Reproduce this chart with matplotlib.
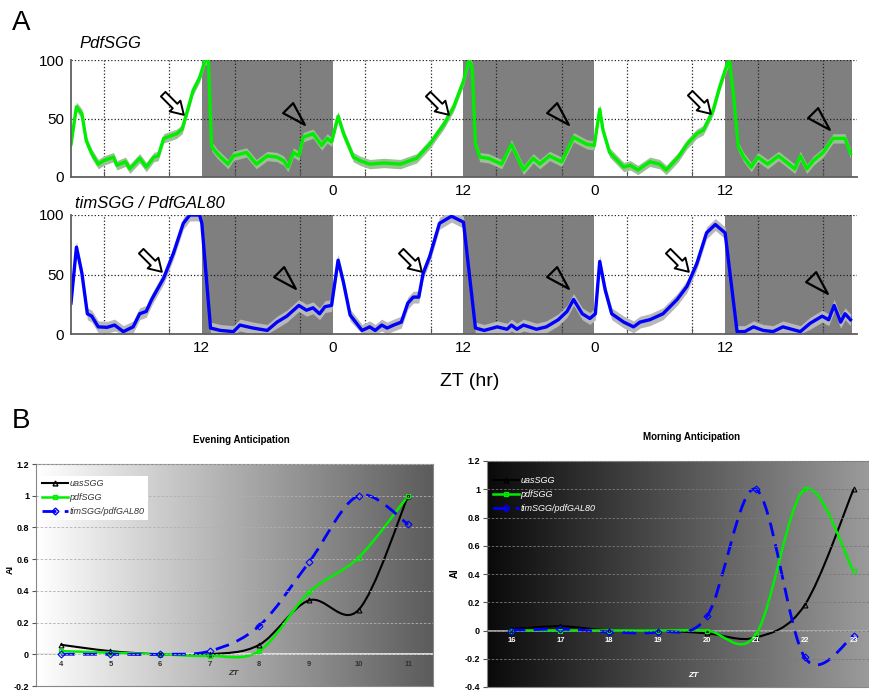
import numpy as np
import matplotlib
matplotlib.use("Agg")
import matplotlib.pyplot as plt
from matplotlib.path import Path
from matplotlib.patches import PathPatch
from matplotlib.lines import Line2D
from matplotlib.markers import MarkerStyle
from matplotlib.transforms import Affine2D

plt.rcParams['font.family'] = ['Liberation Sans', 'DejaVu Sans']

# ---- panel A: activity profiles, [hour, % of max]
pdf_sgg = [[0, 28], [0.5, 60], [1, 54], [1.4, 31], [1.9, 20], [2.5, 11], [3, 14], [3.9, 17], [4.2, 10],
           [5, 13], [5.4, 7], [6.3, 16], [6.9, 8.5], [7.6, 17], [8, 18], [8.5, 33], [9.7, 37], [10.2, 41],
           [11.2, 74], [11.8, 85], [12.3, 100], [12.6, 100], [12.9, 26], [13.4, 20], [14.4, 11], [14.9, 18],
           [16.1, 21], [17, 11], [18, 18], [18.9, 17], [19.5, 14], [19.9, 8.5], [20.4, 21], [20.9, 18],
           [21.3, 34], [22.2, 37], [23, 27], [23.5, 33], [23.9, 30], [24.5, 52], [25, 37], [25.9, 17],
           [26.5, 14], [27.4, 11], [28.7, 12], [30.2, 11], [31.7, 16], [32.9, 28], [34.2, 45], [35.1, 60],
           [36, 82], [36.5, 100], [36.8, 94], [37.1, 28], [37.5, 17], [38.3, 16], [39.5, 11], [40.4, 28],
           [41.5, 6], [42.4, 16], [43, 11], [43.9, 18], [45, 13], [46.1, 34], [47.3, 28], [48, 27],
           [48.5, 58], [48.8, 40], [49.4, 21], [50.7, 8.5], [51.3, 10], [52, 6], [53.1, 13], [54, 11],
           [54.6, 6], [55.7, 17], [56.5, 28], [57.4, 37], [58, 40], [58.9, 57], [59.5, 77], [60.1, 94],
           [60.4, 100], [60.8, 68], [61.2, 26], [61.7, 17], [62.4, 8.5], [63, 17], [63.9, 11], [64.9, 18],
           [66.4, 7], [66.9, 18], [67.5, 7], [68.1, 14], [69, 21], [69.9, 33], [71, 33], [71.5, 20]]
tim_sgg = [[0, 26], [0.5, 73], [1, 51], [1.5, 17], [1.9, 15], [2.5, 6], [3.3, 5.6], [4, 7.5], [4.8, 2],
           [5.7, 6], [6.3, 17], [6.9, 19], [7.4, 29], [8.5, 47], [9.4, 68], [10.3, 93], [10.9, 100],
           [11.8, 100], [12, 93], [12.8, 5], [13.7, 3], [14.9, 2], [15.5, 7.5], [16.7, 5], [18, 3],
           [18.9, 10], [19.8, 15], [20.9, 24], [21.6, 20], [22.2, 22], [22.8, 17], [23.3, 23], [23.9, 24],
           [24.5, 62], [25, 43], [25.6, 16], [26.7, 3], [27.4, 6], [27.9, 3], [28.5, 7.5], [29, 5],
           [29.6, 7.5], [30.3, 10], [30.9, 26], [31.4, 31], [31.9, 31], [32.3, 51], [32.9, 65], [33.8, 93],
           [34.9, 99], [36, 94], [37.1, 5], [37.9, 3], [39.1, 6], [40, 4], [40.4, 7.5], [40.9, 4],
           [41.5, 7.5], [42.7, 4], [43.6, 6], [44.7, 12], [45.5, 19], [46.1, 29], [46.9, 17], [47.6, 13],
           [48.1, 17], [48.5, 61], [49, 37], [49.6, 17], [50.7, 10], [51.6, 6], [52.2, 10], [53.1, 12],
           [54.3, 17], [55.6, 29], [56.5, 40], [57.4, 59], [58.3, 85], [59.1, 92], [60, 85], [61.1, 2],
           [61.8, 2], [62.6, 6], [63.5, 3], [64.4, 2], [65.3, 6], [66.9, 2], [67.8, 9], [68.9, 15],
           [69.5, 12], [70, 24], [70.6, 10], [71, 17], [71.5, 12]]
pdf_sem = 4
tim_sem = 5
dark_periods = [(12, 24), (36, 48), (60, 71.6)]
grid_hours = [3, 9, 15, 21, 27, 33, 39, 45, 51, 57, 63, 69]
top_lab_hours, top_lab_text = [24, 36, 48, 60], ["0", "12", "0", "12"]
bot_lab_hours, bot_lab_text = [12, 24, 36, 48, 60], ["12", "0", "12", "0", "12"]
top_arrows = [(9.4, 62), (33.7, 62), (57.7, 63.5)]
top_heads = [(20.6, 52.5), (44.9, 52), (68.8, 48)]
bot_arrows = [(7.3, 61), (31.2, 61), (55.7, 61)]
bot_heads = [(19.8, 45.5), (44.9, 45.5), (68.6, 41)]

# ---- panel B: anticipation index
eve_zt = [4, 5, 6, 7, 8, 9, 10, 11]
eve_uas = [0.06, 0.02, 0.0, 0.0, 0.06, 0.34, 0.28, 1.0]
eve_pdf = [0.02, 0.01, 0.0, -0.01, 0.02, 0.39, 0.61, 1.0]
eve_tim = [0.0, 0.0, 0.0, 0.02, 0.18, 0.58, 1.0, 0.82]
morn_zt = [16, 17, 18, 19, 20, 21, 22, 23]
morn_uas = [0.01, 0.03, 0.0, 0.0, -0.02, -0.05, 0.18, 1.0]
morn_pdf = [0.0, 0.0, 0.0, 0.0, 0.0, -0.03, 1.0, 0.42]
morn_tim = [0.0, 0.01, -0.01, -0.01, 0.1, 1.0, -0.19, -0.04]
series_names = ["uasSGG", "pdfSGG", "timSGG/pdfGAL80"]


arrow_path = Path([(-1, 0.22), (0.15, 0.22), (0.15, 0.52), (1, 0), (0.15, -0.52), (0.15, -0.22),
                   (-1, -0.22), (-1, 0.22)], closed=True)
head_path = Path([(-1, 0.6), (1, 0), (-1, -0.6), (-1, 0.6)], closed=True)
arrow_mk = MarkerStyle(arrow_path, transform=Affine2D().rotate_deg(-45))
head_mk = MarkerStyle(head_path, transform=Affine2D().rotate_deg(-45))


def activity(ax, pairs, sem, col, band, lab_h, lab_t, arrows, heads):
    t, v = np.array(pairs).T
    for a, b in dark_periods:
        ax.axvspan(a, b, color="#7f7f7f", lw=0, zorder=0.5)
    ax.fill_between(t, np.clip(v - sem, 0, None), v + sem, color=band, lw=0, zorder=1.8)
    ax.plot(t, v, color=col, lw=2.4, zorder=2.5)
    for x, y in arrows:
        ax.plot(x, y, marker=arrow_mk, ms=21, mfc="white", mec="k", mew=1.4, zorder=3)
    for x, y in heads:
        ax.plot(x, y, marker=head_mk, ms=17, mfc="none", mec="k", mew=1.6, zorder=3)
    ax.set_xlim(0, 72.1)
    ax.set_ylim(0, 100)
    ax.set_yticks([0, 50, 100])
    ax.set_xticks(grid_hours, labels=[""] * len(grid_hours))
    ax.set_xticks(lab_h, labels=lab_t, minor=True)
    ax.tick_params(axis="x", which="major", direction="in", length=4, color="#555555")
    ax.tick_params(axis="x", which="minor", length=0, labelsize=11, pad=5)
    ax.tick_params(axis="y", length=0, labelsize=11, pad=5)
    ax.grid(True, which="major", ls=":", color="#222222", lw=0.9)
    for s in ["top", "right"]:
        ax.spines[s].set_visible(False)
    for s in ["left", "bottom"]:
        ax.spines[s].set_color("#606060")
        ax.spines[s].set_linewidth(1.3)


def smooth_path(x, y):
    x = np.asarray(x, float)
    y = np.asarray(y, float)
    xp = np.concatenate([[x[0]], x, [x[-1]]])
    yp = np.concatenate([[y[0]], y, [y[-1]]])
    verts = [(x[0], y[0])]
    codes = [Path.MOVETO]
    for i in range(len(x) - 1):
        c1 = (x[i] + (xp[i + 2] - xp[i]) / 6, y[i] + (yp[i + 2] - yp[i]) / 6)
        c2 = (x[i + 1] - (xp[i + 3] - xp[i + 1]) / 6, y[i + 1] - (yp[i + 3] - yp[i + 1]) / 6)
        verts += [c1, c2, (x[i + 1], y[i + 1])]
        codes += [Path.CURVE4] * 3
    return Path(verts, codes)


def anticipation(ax, zt, uas, pdf, tim, ylo, g0, g1, grid_col, zero_col, txt_col, leg_frame, zt_pos):
    x0, x1 = zt[0] - 0.5, zt[-1] + 0.5
    ax.imshow(np.linspace(g0, g1, 256)[None, :], cmap="gray", vmin=0, vmax=1,
              extent=(x0, x1, ylo, 1.2), aspect="auto", zorder=0, interpolation="bicubic")
    ax.axhline(0, color=zero_col, lw=1.3, zorder=0.8)
    styles = [(uas, "k", "-", "^", 1.5), (pdf, "#00ee00", "-", "s", 1.8), (tim, "#0000ff", (0, (5, 3)), "D", 2.0)]
    handles = []
    for vals, col, ls, mk, lw in styles:
        ax.add_patch(PathPatch(smooth_path(zt, vals), fill=False, ec=col, lw=lw, ls=ls, zorder=2))
        ax.plot(zt, vals, ls="none", marker=mk, ms=3.5, mfc="none", mec=col, mew=0.8, zorder=3)
        handles.append(Line2D([], [], color=col, ls=ls, lw=lw, marker=mk, ms=3.5, mfc="none", mec=col))
    leg = ax.legend(handles, series_names, loc="upper left", bbox_to_anchor=(0.0, 0.96), numpoints=1,
                    handlelength=2.8, labelspacing=0.55, handletextpad=0.2, borderaxespad=0.3,
                    frameon=leg_frame, facecolor="white", edgecolor="none", framealpha=1, fancybox=False,
                    prop={"style": "italic", "size": 6.5})
    for t in leg.get_texts():
        t.set_color(txt_col)
    for z in zt:
        ax.annotate(str(z), (z, 0), xytext=(0, -5), textcoords="offset points", ha="center", va="top",
                    fontsize=5.5, fontweight="bold", color=txt_col)
    ax.text(zt_pos[0], zt_pos[1], "ZT", transform=ax.transAxes, ha="center", va="center",
            fontsize=6, fontweight="bold", style="italic", color=txt_col)
    ax.set_xlim(x0, x1)
    ax.set_ylim(ylo, 1.2)
    ticks = np.round(np.arange(ylo, 1.21, 0.2), 1)
    ax.set_yticks(ticks, labels=[f"{t:g}" for t in ticks])
    ax.set_xticks([])
    ax.tick_params(axis="y", length=3, color="#555555", labelsize=6.5, pad=2)
    for lab in ax.get_yticklabels():
        lab.set_fontweight("bold")
    ax.yaxis.grid(True, ls=(0, (3, 2)), color=grid_col, lw=0.6)
    ax.set_axisbelow(False)
    for s in ax.spines.values():
        s.set_color("#888888")


fig = plt.figure(figsize=(8.7, 6.92), dpi=100)
W, H = 870, 692

ax1 = fig.add_axes([71 / W, 1 - 177 / H, 786 / W, 117 / H])
activity(ax1, pdf_sgg, pdf_sem, "#00ee00", "#9dbf95", top_lab_hours, top_lab_text, top_arrows, top_heads)
ax2 = fig.add_axes([71 / W, 1 - 334 / H, 786 / W, 119 / H])
activity(ax2, tim_sgg, tim_sem, "#0000ff", "#b8b8b8", bot_lab_hours, bot_lab_text, bot_arrows, bot_heads)

fig.text(12 / W, 1 - 23 / H, "A", fontsize=20, va="center")
fig.text(79 / W, 1 - 43 / H, "PdfSGG", fontsize=12, style="italic", va="center")
fig.text(75 / W, 1 - 203 / H, "timSGG / PdfGAL80", fontsize=12, style="italic", va="center")
fig.text(470 / W, 1 - 382 / H, "ZT (hr)", fontsize=14, ha="center", va="center")

ax3 = fig.add_axes([36 / W, 1 - 686 / H, 397 / W, 222 / H])
anticipation(ax3, eve_zt, eve_uas, eve_pdf, eve_tim, -0.2, 1.0, 0.36, "#b0b0b0", "#e6e6e6", "#333333",
             True, (0.496, 0.058))
ax4 = fig.add_axes([487 / W, 1 - 687 / H, 391 / W, 226 / H])
anticipation(ax4, morn_zt, morn_uas, morn_pdf, morn_tim, -0.4, 0.04, 0.62, "#7a7a7a", "#a8a8a8", "white",
             False, (0.527, 0.053))

fig.text(12 / W, 1 - 421 / H, "B", fontsize=20, va="center")
fig.text(241 / W, 1 - 440 / H, "Evening Anticipation", fontsize=7, fontweight="bold", ha="center", va="center")
fig.text(692 / W, 1 - 437 / H, "Morning Anticipation", fontsize=7, fontweight="bold", ha="center", va="center")
fig.text(10 / W, 1 - 570 / H, "AI", fontsize=6.5, fontweight="bold", rotation=90, ha="center", va="center")
fig.text(455 / W, 1 - 573 / H, "AI", fontsize=7, fontweight="bold", rotation=90, ha="center", va="center")

fig.savefig("out.png", dpi=100)
